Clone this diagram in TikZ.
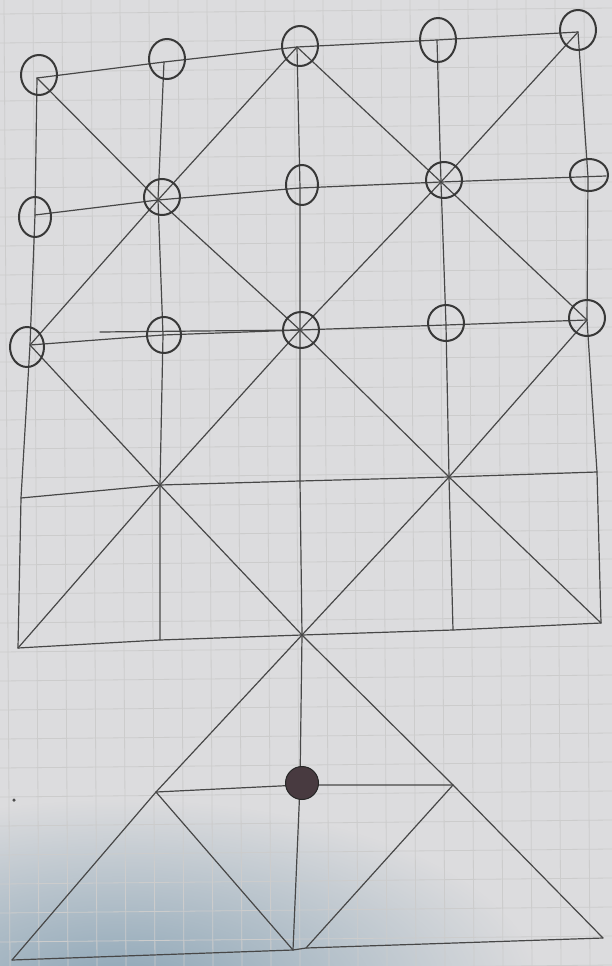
\documentclass[tikz,border=0pt]{standalone}
\usetikzlibrary{shapes.geometric,fadings}
\tikzfading[name=cornerfade, inner color=transparent!0, outer color=transparent!100]
\begin{document}
\begin{tikzpicture}[x=1pt,y=-1pt,
  board/.style={draw=black!72, line width=1.2pt, line cap=round, line join=round},
  ring/.style={draw=black!78, line width=2pt, ellipse, minimum width=36pt, minimum height=40pt, inner sep=0pt},
  grid line/.style={draw=black!20, line width=0.8pt}]
\definecolor{paper}{RGB}{220,220,222}
\definecolor{paperblue}{RGB}{140,165,182}
\definecolor{ink}{RGB}{72,58,64}
\useasboundingbox (0,0) rectangle (612,966);
\fill[paper] (0,0) rectangle (612,966);
\begin{scope}
\clip (0,0) rectangle (612,966);
\fill[paperblue, path fading=cornerfade, fit fading=true] (120,990) ellipse [x radius=420, y radius=190];
\end{scope}
% faint grid of the paper
\foreach \i in {0,...,21} {\draw[grid line] (4+29*\i,0) -- (10+29*\i,966);}
\foreach \j in {0,...,33} {\draw[grid line] (0,14+29*\j) -- (612,8+29*\j);}
% points of the board
\coordinate (a0) at (37,78);  \coordinate (a1) at (164,62);  \coordinate (a2) at (297,47);  \coordinate (a3) at (437,40);  \coordinate (a4) at (578,32);
\coordinate (b0) at (35,215); \coordinate (b1) at (158,200); \coordinate (b2) at (300,188); \coordinate (b3) at (441,182); \coordinate (b4) at (588,177);
\coordinate (c0) at (30,345); \coordinate (c1) at (163,335); \coordinate (c2) at (300,330); \coordinate (c3) at (446,325); \coordinate (c4) at (587,320);
\coordinate (d0) at (21,498); \coordinate (d1) at (160,485); \coordinate (d2) at (300,481); \coordinate (d3) at (449,477); \coordinate (d4) at (597,472);
\coordinate (e0) at (18,648); \coordinate (e1) at (160,640); \coordinate (e2) at (302,635); \coordinate (e3) at (453,630); \coordinate (e4) at (601,623);
\coordinate (f0) at (156,792); \coordinate (f1) at (300,785); \coordinate (f2) at (453,785);
\coordinate (g0) at (12,960); \coordinate (g1) at (293,950); \coordinate (g2) at (306,948); \coordinate (g3) at (603,938);
\coordinate (c2s) at (100,332);
\coordinate (b4e) at (606,176);
% horizontal lines
\draw[board] (a0) -- (a1) -- (a2) -- (a3) -- (a4);
\draw[board] (b0) -- (b1) -- (b2) -- (b3) -- (b4e);
\draw[board] (c0) -- (c1) -- (c2) -- (c3) -- (c4);
\draw[board] (c2s) -- (c2);
\draw[board] (d0) -- (d1) -- (d2) -- (d3) -- (d4);
\draw[board] (e0) -- (e1) -- (e2) -- (e3) -- (e4);
\draw[board] (f0) -- (f1) -- (f2);
\draw[board] (g0) -- (g1) -- (g2) -- (g3);
% vertical lines
\draw[board] (a0) -- (b0) -- (c0) -- (d0) -- (e0);
\draw[board] (a1) -- (b1) -- (c1) -- (d1) -- (e1);
\draw[board] (a2) -- (b2) -- (c2) -- (d2) -- (e2) -- (f1) -- (g1);
\draw[board] (a3) -- (b3) -- (c3) -- (d3) -- (e3);
\draw[board] (a4) -- (b4) -- (c4) -- (d4) -- (e4);
% diagonals
\draw[board] (a0) -- (b1) -- (c2) -- (d3) -- (e4);
\draw[board] (a4) -- (b3) -- (c2) -- (d1) -- (e0);
\draw[board] (a2) -- (b1) -- (c0) -- (d1) -- (e2) -- (d3) -- (c4) -- (b3) -- (a2);
% lower triangle
\draw[board] (e2) -- (f0) -- (g0);
\draw[board] (e2) -- (f2) -- (g3);
\draw[board] (f0) -- (g1);
\draw[board] (f2) -- (g2);
% rings
\node[ring] (ra0) at (39,75) {};
\node[ring] (ra1) at (167,59) {};
\node[ring] (ra2) at (300,46) {};
\node[ring, minimum height=44pt] (ra3) at (438,40) {};
\node[ring] (ra4) at (578,30) {};
\node[ring, minimum width=32pt] (rb0) at (35,217) {};
\node[ring, minimum height=36pt] (rb1) at (162,197) {};
\node[ring, minimum width=32pt] (rb2) at (302,185) {};
\node[ring, minimum height=36pt] (rb3) at (444,180) {};
\node[ring, minimum width=38pt, minimum height=32pt] (rb4) at (589,175) {};
\node[ring, minimum width=34pt] (rc0) at (27,347) {};
\node[ring, minimum width=34pt, minimum height=36pt] (rc1) at (164,335) {};
\node[ring, minimum height=36pt] (rc2) at (301,330) {};
\node[ring, minimum height=36pt] (rc3) at (446,323) {};
\node[ring, minimum height=36pt] (rc4) at (587,318) {};
% filled piece and small marks
\node[circle, fill=ink, draw=black!85, line width=1pt, minimum size=33pt, inner sep=0pt] (piece) at (302,783) {};
\node[circle, fill=black!70, minimum size=3.5pt, inner sep=0pt] (stray) at (14,800) {};
\end{tikzpicture}
\end{document}
